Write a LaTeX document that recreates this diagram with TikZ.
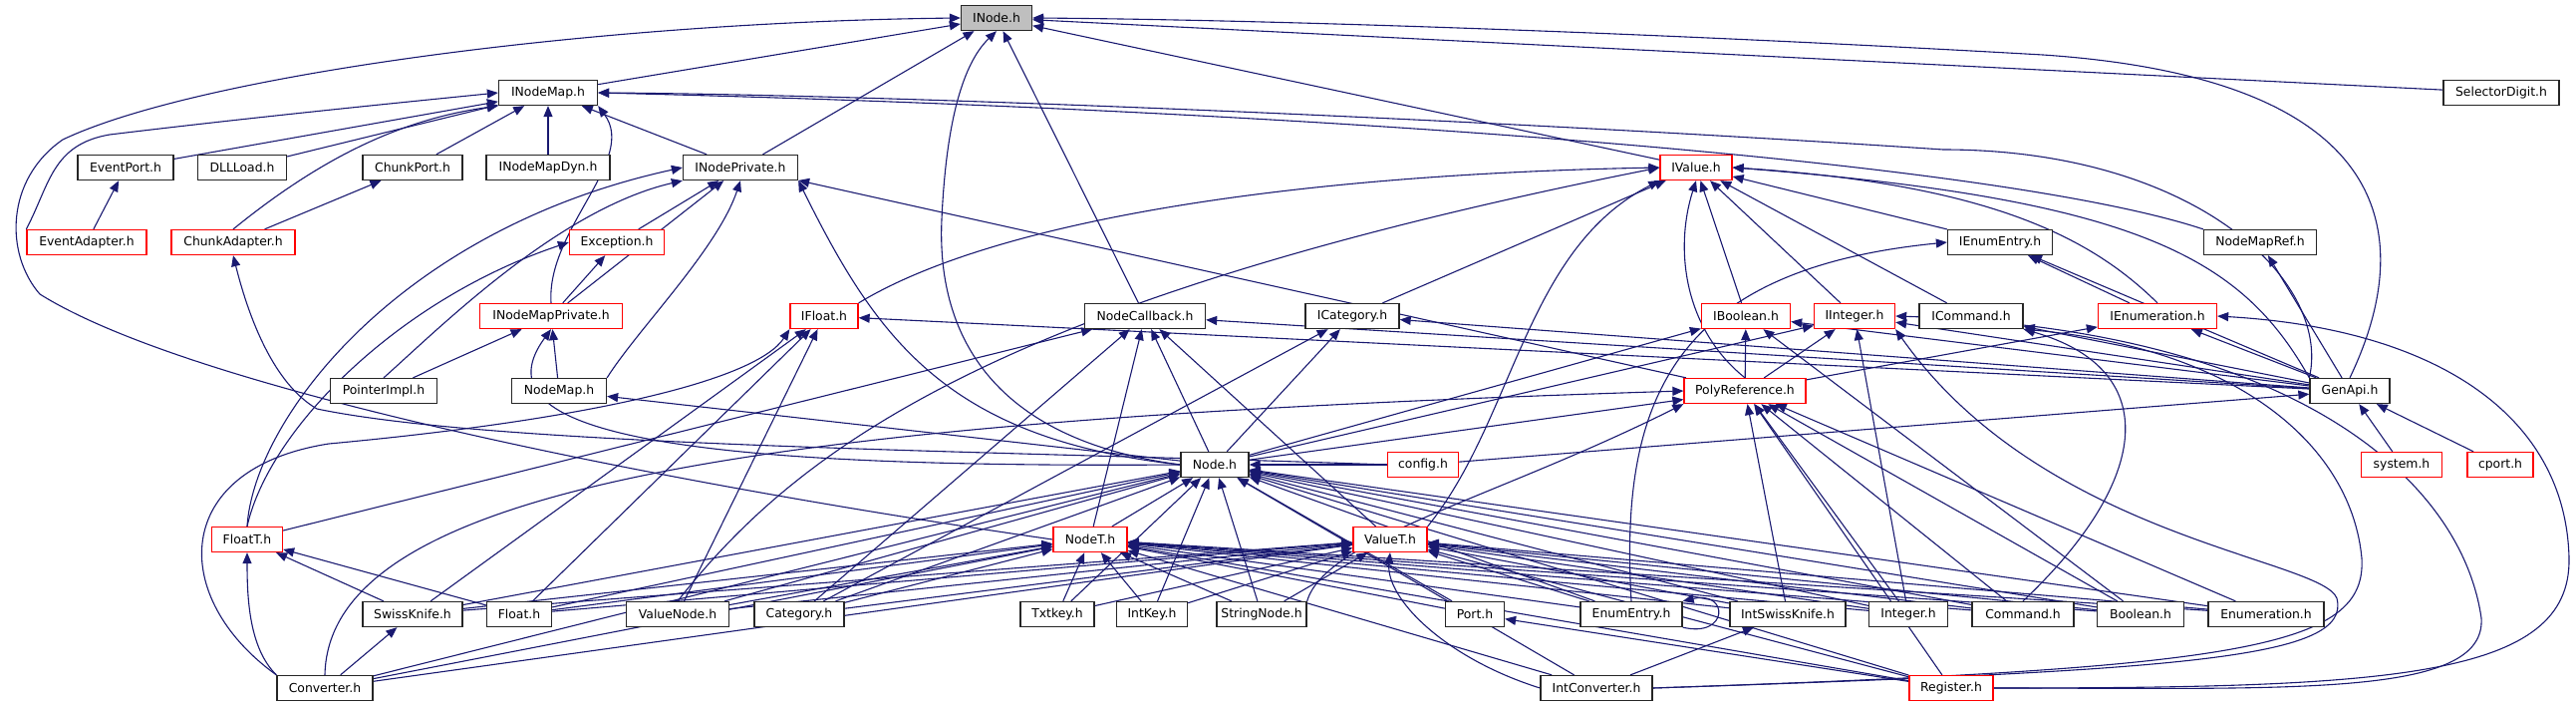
\documentclass[tikz,border=0pt]{standalone}
\usepackage{fontspec}
\usepackage{tikz}
\usetikzlibrary{
  arrows.meta,
  positioning,
  backgrounds
}
\newfontfamily\dotfont{DejaVu Sans}
\definecolor{depEdge}{HTML}{191970}
\definecolor{depRed}{HTML}{FF0000}
\definecolor{depRoot}{HTML}{BFBFBF}
\tikzset{
  hfile/.style={
    draw=black!85, line width=1.3pt, fill=white, minimum height=25pt,
    inner sep=0pt, font=\dotfont\fontsize{12.4}{14}\selectfont
  },
  hred/.style={hfile, draw=depRed},
  hroot/.style={hfile, fill=depRoot},
  dep/.style={-{Triangle[length=11pt,width=9pt]}, depEdge, line width=1.1pt}
}

\begin{document}
\begin{tikzpicture}[x=1pt, y=-1pt]
  \useasboundingbox (0,0) rectangle (2585,709);
  % header files, row by row
  \node[hroot, minimum width=71pt] (inode) at (1000,18) {INode.h};
  \node[hfile, minimum width=99pt] (inodemap) at (550,93) {INodeMap.h};
  \node[hfile, minimum width=116pt] (selectordigit) at (2510,93) {SelectorDigit.h};
  \node[hfile, minimum width=96pt] (eventport) at (126,168) {EventPort.h};
  \node[hfile, minimum width=89pt] (dllload) at (243,168) {DLLLoad.h};
  \node[hfile, minimum width=100pt] (chunkport) at (414,168) {ChunkPort.h};
  \node[hfile, minimum width=124pt] (inodemapdyn) at (550,168) {INodeMapDyn.h};
  \node[hfile, minimum width=115pt] (inodeprivate) at (743,168) {INodePrivate.h};
  \node[hred, minimum width=72pt] (ivalue) at (1702,168) {IValue.h};
  \node[hred, minimum width=120pt] (eventadapter) at (87,243) {EventAdapter.h};
  \node[hred, minimum width=124pt] (chunkadapter) at (234,243) {ChunkAdapter.h};
  \node[hred, minimum width=95pt] (exception) at (619,243) {Exception.h};
  \node[hfile, minimum width=105pt] (ienumentry) at (2007,243) {IEnumEntry.h};
  \node[hfile, minimum width=113pt] (nodemapref) at (2268,243) {NodeMapRef.h};
  \node[hred, minimum width=143pt] (inodemapprivate) at (553,317) {INodeMapPrivate.h};
  \node[hred, minimum width=68pt] (ifloat) at (827,317) {IFloat.h};
  \node[hfile, minimum width=121pt] (nodecallback) at (1149,317) {NodeCallback.h};
  \node[hfile, minimum width=94pt] (icategory) at (1357,317) {ICategory.h};
  \node[hred, minimum width=89pt] (iboolean) at (1752,317) {IBoolean.h};
  \node[hred, minimum width=81pt] (iinteger) at (1861,317) {IInteger.h};
  \node[hfile, minimum width=104pt] (icommand) at (1978,317) {ICommand.h};
  \node[hred, minimum width=119pt] (ienumeration) at (2165,317) {IEnumeration.h};
  \node[hfile, minimum width=107pt] (pointerimpl) at (385,392) {PointerImpl.h};
  \node[hfile, minimum width=95pt] (nodemap) at (561,392) {NodeMap.h};
  \node[hred, minimum width=122pt] (polyref) at (1751,392) {PolyReference.h};
  \node[hfile, minimum width=80pt] (genapi) at (2358,392) {GenApi.h};
  \node[hfile, minimum width=68pt] (nodeh) at (1219,466) {Node.h};
  \node[hred, minimum width=71pt] (config) at (1428,466) {config.h};
  \node[hred, minimum width=81pt] (system) at (2410,466) {system.h};
  \node[hred, minimum width=66pt] (cport) at (2509,466) {cport.h};
  \node[hred, minimum width=71pt] (floatt) at (248,541) {FloatT.h};
  \node[hred, minimum width=74pt] (nodet) at (1094,541) {NodeT.h};
  \node[hred, minimum width=74pt] (valuet) at (1395,541) {ValueT.h};
  \node[hfile, minimum width=100pt] (swissknife) at (414,616) {SwissKnife.h};
  \node[hfile, minimum width=65pt] (floath) at (521,616) {Float.h};
  \node[hfile, minimum width=103pt] (valuenode) at (680,616) {ValueNode.h};
  \node[hfile, minimum width=90pt] (category) at (802,616) {Category.h};
  \node[hfile, minimum width=74pt] (txtkey) at (1061,616) {Txtkey.h};
  \node[hfile, minimum width=71pt] (intkey) at (1156,616) {IntKey.h};
  \node[hfile, minimum width=90pt] (stringnode) at (1266,616) {StringNode.h};
  \node[hfile, minimum width=59pt] (port) at (1480,616) {Port.h};
  \node[hfile, minimum width=102pt] (enumentry) at (1637,616) {EnumEntry.h};
  \node[hfile, minimum width=116pt] (intswissknife) at (1794,616) {IntSwissKnife.h};
  \node[hfile, minimum width=79pt] (integer) at (1915,616) {Integer.h};
  \node[hfile, minimum width=102pt] (command) at (2030,616) {Command.h};
  \node[hfile, minimum width=87pt] (boolean) at (2148,616) {Boolean.h};
  \node[hfile, minimum width=116pt] (enumeration) at (2274,616) {Enumeration.h};
  \node[hfile, minimum width=96pt] (converter) at (326,690) {Converter.h};
  \node[hfile, minimum width=112pt] (intconverter) at (1602,690) {IntConverter.h};
  \node[hred, minimum width=84pt] (register) at (1958,690) {Register.h};

  \begin{scope}[on background layer]
  % straight include edges
  \foreach \s/\e in {inodemap/inode, inodeprivate/inode, nodecallback/inode, ivalue/inode, selectordigit/inode,
    eventport/inodemap, dllload/inodemap, chunkport/inodemap, inodemapdyn/inodemap, inodeprivate/inodemap,
    eventadapter/eventport, chunkadapter/chunkport, exception/inodeprivate, inodemapprivate/inodeprivate,
    inodemapprivate/exception, polyref/inodeprivate, pointerimpl/inodemapprivate, nodemap/inodemapprivate,
    icategory/ivalue, iboolean/ivalue, iinteger/ivalue, icommand/ivalue, ienumentry/ivalue, ienumeration/ienumentry,
    genapi/nodemapref, genapi/ienumeration, genapi/ienumentry, genapi/ifloat, genapi/nodecallback, genapi/icategory,
    genapi/iboolean, genapi/iinteger, genapi/icommand, system/genapi, cport/genapi, config/genapi,
    nodet/nodecallback, nodeh/nodecallback, valuet/nodecallback, floatt/nodecallback, category/nodecallback,
    nodet/nodeh, nodeh/nodemap, nodeh/icategory, category/icategory, nodeh/iboolean, nodeh/iinteger,
    nodeh/polyref, config/nodeh, polyref/iboolean, polyref/iinteger, polyref/ienumeration,
    swissknife/ifloat, floath/ifloat, valuenode/ifloat, swissknife/floatt, floath/floatt, converter/swissknife,
    intswissknife/polyref, integer/polyref, command/polyref, boolean/polyref, enumeration/polyref, register/polyref,
    integer/iinteger, boolean/iboolean, intconverter/intswissknife, register/port}
    {\draw[dep] (\s) -- (\e);}
  \foreach \s in {swissknife, floath, valuenode, category, txtkey, intkey, stringnode, port, enumentry,
    intswissknife, integer, command, boolean, enumeration, converter, register, intconverter}
    {\draw[dep] (\s) -- (nodeh); \draw[dep] (\s) -- (nodet);}
  \foreach \s in {swissknife, floath, valuenode, category, txtkey, intkey, stringnode, enumentry,
    intswissknife, integer, command, boolean, enumeration, converter, register}
    {\draw[dep] (\s) -- (valuet);}
  % curved edges
  \draw[dep] (nodet.west) .. controls (700,490) and (200,395) .. (40,295) .. controls (5,255) and (5,180) .. (63,140) .. controls (200,75) and (600,22) .. (inode.west);
  \draw[dep] (nodeh.west) .. controls (990,440) and (940,330) .. (945,220) .. controls (950,110) and (970,60) .. (inode.south);
  \draw[dep] (nodeh.west) .. controls (950,440) and (880,340) .. (inodeprivate.south east);
  \draw[dep] (nodeh.west) .. controls (650,470) and (480,430) .. (inodemapprivate.south);
  \draw[dep] (genapi.north) .. controls (2420,250) and (2420,80) .. (2050,55) .. controls (1700,35) and (1300,20) .. (inode.east);
  \draw[dep] (genapi.north west) .. controls (2340,280) and (2200,150) .. (1950,150) .. controls (1500,120) and (900,95) .. (inodemap.east);
  \draw[dep] (nodemapref.north west) .. controls (2000,160) and (1300,110) .. (inodemap.east);
  \draw[dep] (eventadapter.north west) .. controls (50,185) and (52,145) .. (110,135) .. controls (250,118) and (400,103) .. (inodemap.west);
  \draw[dep] (chunkadapter.north) .. controls (320,160) and (400,120) .. (inodemap.south west);
  \draw[dep] (inodemapprivate.north) .. controls (548,230) and (640,160) .. (inodemap.south east);
  \draw[dep] (floatt.north) .. controls (255,420) and (400,230) .. (inodeprivate.west);
  \draw[dep] (floatt.north) .. controls (270,430) and (400,300) .. (exception.west);
  \draw[dep] (pointerimpl.north) .. controls (440,330) and (560,210) .. (inodeprivate.south west);
  \draw[dep] (nodemap.north east) .. controls (640,330) and (720,250) .. (inodeprivate.south);
  \draw[dep] (config.west) .. controls (1000,452) and (500,448) .. (318,410) .. controls (275,385) and (250,320) .. (chunkadapter.south);
  \draw[dep] (ifloat.north east) .. controls (1000,220) and (1300,175) .. (ivalue.west);
  \draw[dep] (valuenode.north) .. controls (800,450) and (1000,300) .. (ivalue.west);
  \draw[dep] (genapi.north west) .. controls (2250,260) and (2150,200) .. (ivalue.east);
  \draw[dep] (ienumeration.north) .. controls (2100,240) and (2000,185) .. (ivalue.east);
  \draw[dep] (valuet.north east) .. controls (1520,420) and (1530,250) .. (ivalue.south west);
  \draw[dep] (polyref.north) .. controls (1690,330) and (1680,250) .. (ivalue.south);
  \draw[dep] (enumentry.north) .. controls (1625,400) and (1680,270) .. (ienumentry.west);
  \draw[dep] (command.north) .. controls (2160,480) and (2170,370) .. (icommand.south east);
  \draw[dep] (enumentry.south east) .. controls (1735,640) and (1735,592) .. (enumentry.north east);
  \draw[dep] (converter.north west) .. controls (250,650) and (248,600) .. (floatt.south);
  \draw[dep] (converter.north west) .. controls (170,600) and (170,470) .. (330,445) .. controls (600,420) and (760,380) .. (ifloat.south west);
  \draw[dep] (converter.north) .. controls (330,480) and (800,420) .. (polyref.west);
  \draw[dep] (stringnode.north east) .. controls (1330,540) and (1500,500) .. (polyref.south west);
  \draw[dep] (intconverter.west) .. controls (1450,660) and (1390,600) .. (valuet.south);
  \draw[dep] (intconverter.east) .. controls (2200,672) and (2360,660) .. (2345,600) .. controls (2330,560) and (2050,540) .. (iinteger.south east);
  \draw[dep] (intconverter.east) .. controls (2250,670) and (2375,650) .. (2370,560) .. controls (2360,450) and (2250,350) .. (icommand.south east);
  \draw[dep] (register.east) .. controls (2300,690) and (2495,700) .. (2490,620) .. controls (2470,480) and (2300,330) .. (iinteger.east);
  \draw[dep] (register.east) .. controls (2400,690) and (2580,680) .. (2578,560) .. controls (2575,420) and (2450,330) .. (ienumeration.east);
  \end{scope}
\end{tikzpicture}
\end{document}
